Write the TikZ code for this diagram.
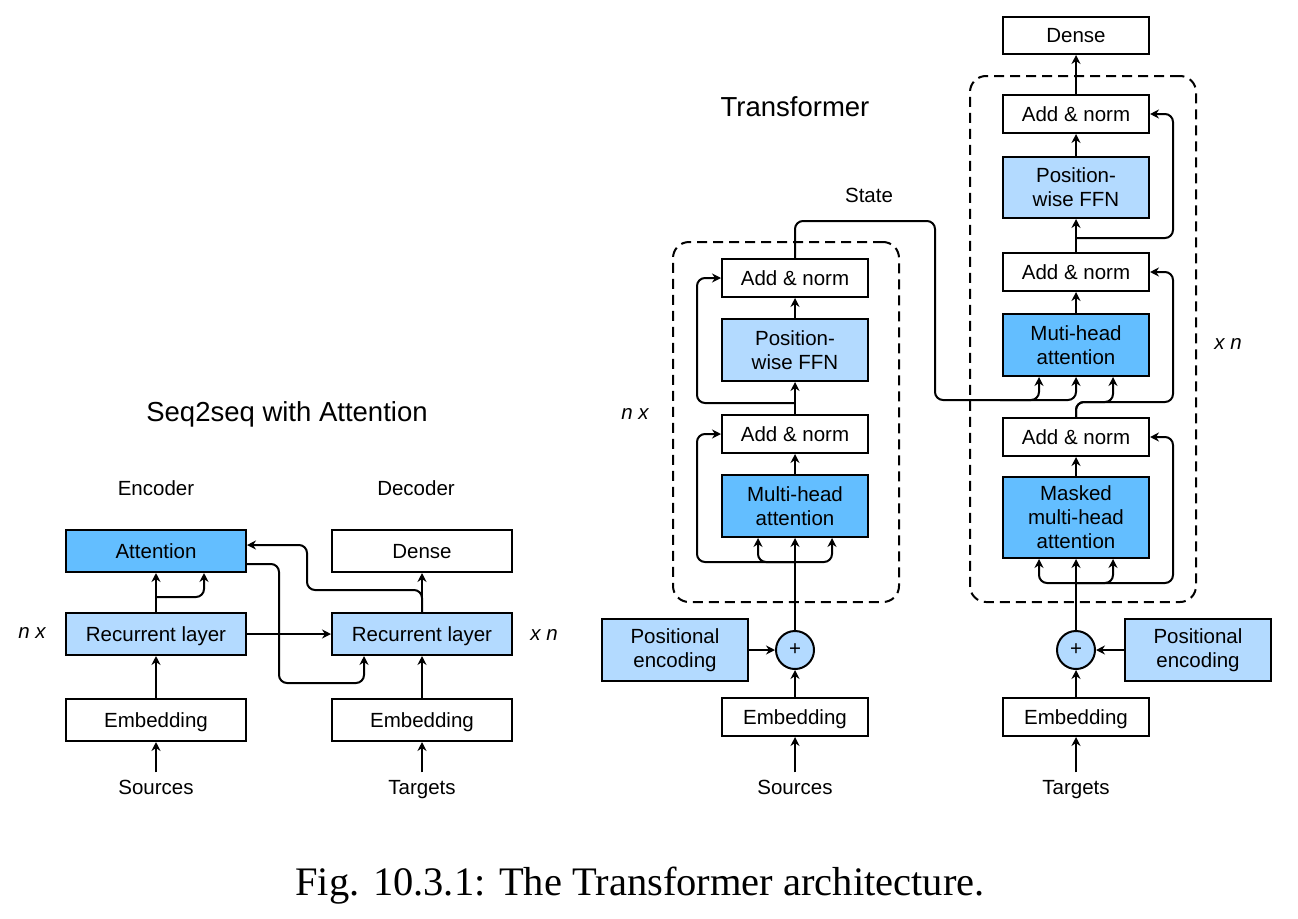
\documentclass[tikz,border=0pt]{standalone}
\usepackage{fontspec}
\setmainfont{Liberation Serif}
\setsansfont{Liberation Sans}
\usetikzlibrary{arrows.meta}
\definecolor{attblue}{RGB}{99,190,255}
\definecolor{paleblue}{RGB}{179,218,255}
\tikzset{
  lbl/.style={font=\sffamily\fontsize{20.5}{24}\selectfont, inner sep=0pt, align=center},
  word/.style={font=\sffamily\fontsize{20.5}{24}\selectfont, inner sep=0pt, text height=14.8pt, text depth=0pt},
  rep/.style={word, font=\sffamily\itshape\fontsize{20.5}{24}\selectfont},
  ttl/.style={font=\sffamily\fontsize{27.5}{30}\selectfont, inner sep=0pt, text height=19.8pt, text depth=0pt},
  frame/.style={draw, line width=2pt, fill=white},
  blk/.style={lbl, frame},
  wblk/.style={word, frame},
  blkL/.style={wblk, minimum width=180pt, minimum height=42pt},
  blkT/.style={blk, minimum width=146pt, minimum height=38pt},
  wblkT/.style={wblk, minimum width=146pt, minimum height=38pt},
  tall/.style={minimum height=62pt},
  dark/.style={fill=attblue},
  pale/.style={fill=paleblue},
  conn/.style={line width=2pt, rounded corners=8pt},
  arr/.style={conn, -{Stealth[length=9pt,width=9pt,inset=3pt]}},
  stack/.style={draw, line width=2pt, dash pattern=on 10pt off 6pt, rounded corners=16pt, inner sep=0pt},
  plus/.style={circle, draw, line width=2pt, fill=paleblue, minimum size=38pt, inner sep=0pt, font=\sffamily\fontsize{20.5}{24}\selectfont},
}
\begin{document}
\begin{tikzpicture}[x=1pt,y=-1pt]
\useasboundingbox[fill=white] (0,0) rectangle (1298,918);

% ---------- Seq2seq with attention ----------
\node[ttl] (t1) at (287,412) {Seq2seq with Attention};
\node[word] (encT) at (156,488) {Encoder};
\node[word] (decT) at (416,488) {Decoder};
\node[blkL,dark] (att) at (156,551) {Attention};
\node[blkL] (ldense) at (422,551) {Dense};
\node[blkL,pale] (rnnL) at (156,634) {Recurrent layer};
\node[blkL,pale] (rnnR) at (422,634) {Recurrent layer};
\node[blkL] (embL) at (156,720) {Embedding};
\node[blkL] (embR) at (422,720) {Embedding};
\node[word] (srcL) at (156,787) {Sources};
\node[word] (tgtL) at (422,787) {Targets};
\node[rep] (nxL) at (32,631) {n x};
\node[rep] (xnL) at (544,633) {x n};

\draw[arr, shorten <=7pt] (srcL.north) -- (embL.south);
\draw[arr, shorten <=7pt] (tgtL.north) -- (embR.south);
\draw[arr] (embL) -- (rnnL);
\draw[arr] (embR) -- (rnnR);
\draw[arr] (rnnL) -- (att);
\draw[arr] (rnnL.north |- 0,597) -| ([xshift=48pt]att.south);
\draw[arr] (rnnL) -- (rnnR);
\draw[arr] ([yshift=-13pt]att.east) -| (279,683) -| ([xshift=-58pt]rnnR.south);
\draw[arr] (rnnR) -- (ldense);
\draw[arr] (rnnR.north) -- (422,590) -| (307,545) -- ([yshift=6pt]att.east);

% ---------- Transformer: encoder ----------
\node[ttl] (t2) at (795,107) {Transformer};
\node[stack, minimum width=226pt, minimum height=360pt] (encStack) at (786,422) {};
\node[wblkT] (eAN2) at (795,278) {Add \& norm};
\node[blkT,pale,tall] (eFFN) at (795,350) {Position-\\wise FFN};
\node[wblkT] (eAN1) at (795,434) {Add \& norm};
\node[blkT,dark,tall] (eMHA) at (795,506) {Multi-head\\attention};
\node[plus] (ePlus) at (795,650) {+};
\node[blkT,pale,tall] (ePE) at (675,650) {Positional\\encoding};
\node[wblkT] (eEmb) at (795,717) {Embedding};
\node[word] (srcT) at (795,787) {Sources};
\node[word] (stateT) at (869,195) {State};
\node[rep] (nxT) at (635,412) {n x};

\draw[arr, shorten <=7pt] (srcT.north) -- (eEmb.south);
\draw[arr] (eEmb) -- (ePlus);
\draw[arr] (ePE) -- (ePlus);
\draw[arr] (ePlus) -- (eMHA);
\coordinate (eFork) at (795,562);
\draw[arr] (eFork) -| ([xshift=-37pt]eMHA.south);
\draw[arr] (eFork) -| ([xshift=37pt]eMHA.south);
\draw[arr] (eFork) -| (697,434) -- (eAN1.west);
\draw[arr] (eMHA) -- (eAN1);
\draw[arr] (eAN1) -- (eFFN);
\coordinate (eFork2) at (795,403);
\draw[arr] (eFork2) -| (697,278) -- (eAN2.west);
\draw[arr] (eFFN) -- (eAN2);

% ---------- Transformer: decoder ----------
\node[stack, minimum width=226pt, minimum height=526pt] (decStack) at (1083,339) {};
\node[wblk, minimum width=146pt, minimum height=37pt] (dense) at (1076,35.5) {Dense};
\node[wblkT] (dAN3) at (1076,114) {Add \& norm};
\node[blkT,pale,minimum height=61pt] (dFFN) at (1076,187.5) {Position-\\wise FFN};
\node[wblkT] (dAN2) at (1076,272) {Add \& norm};
\node[blkT,dark,tall] (dMHA) at (1076,345) {Muti-head\\attention};
\node[wblkT] (dAN1) at (1076,437) {Add \& norm};
\node[blkT,dark,minimum height=81pt] (dMMHA) at (1076,517.5) {Masked\\multi-head\\attention};
\node[plus] (dPlus) at (1076,650) {+};
\node[blkT,pale,tall] (dPE) at (1198,650) {Positional\\encoding};
\node[wblkT] (dEmb) at (1076,717) {Embedding};
\node[word] (tgtT) at (1076,787) {Targets};
\node[rep] (xnT) at (1228,342) {x n};

\draw[arr, shorten <=7pt] (tgtT.north) -- (dEmb.south);
\draw[arr] (dEmb) -- (dPlus);
\draw[arr] (dPE) -- (dPlus);
\draw[arr] (dPlus) -- (dMMHA);
\coordinate (dFork) at (1076,583);
\draw[arr] (dFork) -| ([xshift=-37pt]dMMHA.south);
\draw[arr] (dFork) -| ([xshift=37pt]dMMHA.south);
\draw[arr] (dFork) -| (1173,437) -- (dAN1.east);
\draw[arr] (dMMHA) -- (dAN1);
\coordinate (dFork2) at (1076,402);
\draw[arr] (dAN1.north) -- (dFork2) -| (1173,272) -- (dAN2.east);
\draw[arr] (dAN1.north) -- (dFork2) -| ([xshift=37pt]dMHA.south);
\draw[arr] (dMHA) -- (dAN2);
\draw[arr] (dAN2) -- (dFFN);
\coordinate (dFork3) at (1076,238);
\draw[arr] (dFork3) -| (1173,114) -- (dAN3.east);
\draw[arr] (dFFN) -- (dAN3);
\draw[arr] (dAN3) -- (dense);

% ---------- encoder state into the decoder ----------
\coordinate (stateIn) at (1000,400);
\draw[arr] (eAN2.north) |- (935,221) |- (stateIn) -| ([xshift=-37pt]dMHA.south);
\draw[arr] (stateIn) -| (dMHA.south);

% ---------- caption ----------
\node[font=\fontsize{40.5}{44}\selectfont, anchor=base, inner sep=0pt] (cap) at (640,895) {Fig. 10.3.1: The Transformer architecture.};
\end{tikzpicture}
\end{document}
